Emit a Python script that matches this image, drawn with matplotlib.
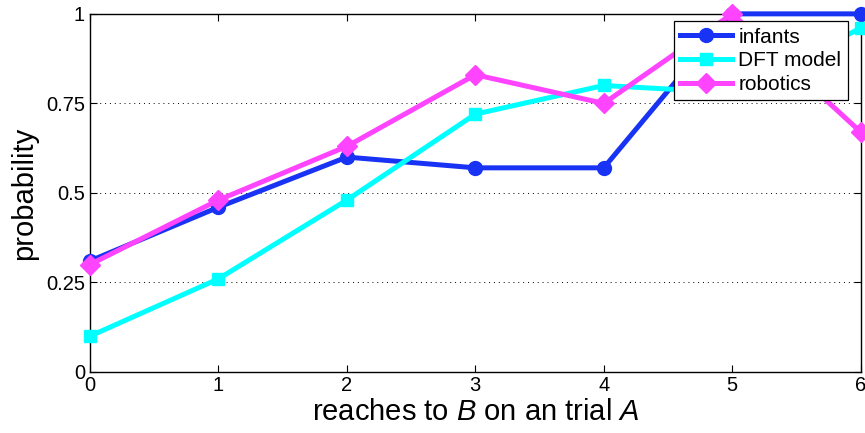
import numpy as np
import matplotlib
matplotlib.use("Agg")
import matplotlib.pyplot as plt

plt.rcParams['font.family'] = ['Liberation Sans', 'DejaVu Sans']
plt.rcParams['mathtext.fontset'] = 'custom'
plt.rcParams['mathtext.rm'] = 'Liberation Sans'
plt.rcParams['mathtext.it'] = 'Liberation Sans:italic'

# reaches to B on the A trial
reaches = [0, 1, 2, 3, 4, 5, 6]
infants = [0.31, 0.46, 0.60, 0.57, 0.57, 1.00, 1.00]
dft_model = [0.10, 0.26, 0.48, 0.72, 0.80, 0.78, 0.96]
robotics = [0.30, 0.48, 0.63, 0.83, 0.75, 1.00, 0.67]
yticks = [0, 0.25, 0.5, 0.75, 1]
ytick_labels = ['0', '0.25', '0.5', '0.75', '1']

fig = plt.figure(figsize=(8.65, 4.33), dpi=100)
ax = fig.add_axes([0.104, 0.141, 0.891, 0.827])

ax.plot(reaches, infants, color='#1933f5', lw=3.6, marker='o', ms=10,
        label='infants', clip_on=False, zorder=3)
ax.plot(reaches, dft_model, color='#00ffff', lw=3.6, marker='s', ms=9,
        label='DFT model', clip_on=False, zorder=3)
ax.plot(reaches, robotics, color='#ff44ff', lw=3.6, marker='D', ms=10,
        label='robotics', clip_on=False, zorder=4)

ax.set_xlim(0, 6)
ax.set_ylim(0, 1)
ax.set_xticks(reaches)
ax.set_yticks(yticks)
ax.set_yticklabels(ytick_labels)
ax.tick_params(direction='in', top=True, right=True, labelsize=14.5,
               length=5, width=0.8)
ax.tick_params(axis='x', pad=3)
ax.yaxis.grid(True, linestyle=(0, (1, 4)), color='black', lw=0.7)
for s in ax.spines.values():
    s.set_linewidth(1.0)

ax.set_xlabel(r'reaches to $B$ on an trial $A$', fontsize=21, labelpad=2)
ax.set_ylabel('probability', fontsize=21, labelpad=6)

leg = ax.legend(loc='upper right', bbox_to_anchor=(0.983, 0.979),
                fontsize=15, fancybox=False, framealpha=1,
                edgecolor='black', borderpad=0.3, handlelength=2.5,
                handletextpad=0.3, labelspacing=0.22, borderaxespad=0)
leg.get_frame().set_linewidth(0.9)

fig.savefig('out.png', dpi=100)
